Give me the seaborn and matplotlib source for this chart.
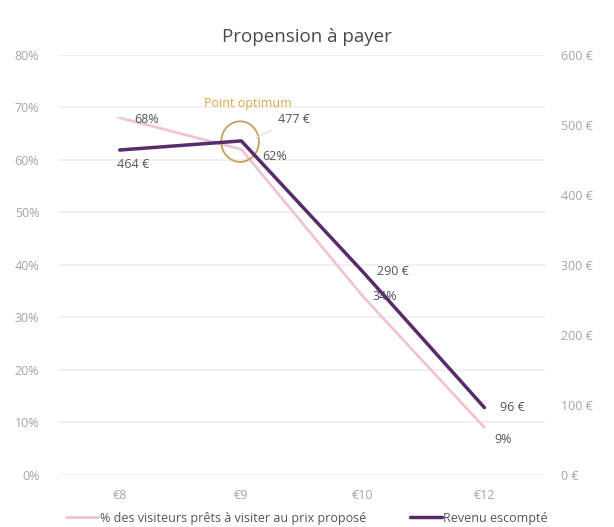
import pandas as pd
import seaborn as sns
import matplotlib.pyplot as plt
from matplotlib.patches import Ellipse

# Données
prix = ['€8', '€9', '€10', '€12']
pct_visiteurs = [68, 62, 34, 9]
revenu = [464, 477, 290, 96]

df = pd.DataFrame({'x': range(len(prix)), 'pct': pct_visiteurs, 'rev': revenu})

sns.set_theme(style="white")
plt.rcParams['font.family'] = ['Open Sans', 'DejaVu Sans']

rose = '#f0c4d6'
violet = '#582b6b'
gris = '#a5a5a5'
texte = '#555555'

fig = plt.figure(figsize=(6.14, 5.27), dpi=100)
ax = fig.add_axes([0.096, 0.099, 0.792, 0.797])
ax2 = ax.twinx()

sns.lineplot(x='x', y='pct', data=df, ax=ax, color=rose, linewidth=2)
sns.lineplot(x='x', y='rev', data=df, ax=ax2, color=violet, linewidth=2.5)

ax.set_xlim(-0.5, 3.5)
ax.set_ylim(0, 80)
ax2.set_ylim(0, 600)
ax.set_yticks(range(0, 81, 10))
ax.set_yticklabels([f'{v}%' for v in range(0, 81, 10)])
ax2.set_yticks(range(0, 601, 100))
ax2.set_yticklabels([f'{v} €' for v in range(0, 601, 100)])
ax.set_xticks(df['x'])
ax.set_xticklabels(prix)
ax.set_xlabel('')
ax.set_ylabel('')
ax2.set_ylabel('')

ax.grid(axis='y', color='#eeeeee', linewidth=1.2)
ax2.grid(False)
for a in (ax, ax2):
    for s in a.spines.values():
        s.set_visible(False)
    a.tick_params(length=0, labelsize=9, colors=gris, pad=12)
ax.tick_params(axis='y', pad=14)
ax2.tick_params(axis='y', pad=11)
ax.tick_params(axis='x', pad=10)

# Étiquettes des valeurs
ax.annotate('68%', xy=(-0.05, 68), xytext=(0.12, 67.6), fontsize=9, color=texte,
            va='center', arrowprops=dict(arrowstyle='-', color='#dddddd', lw=0.8))
ax.text(1.17, 60.6, '62%', fontsize=9, color=texte, va='center')
ax.text(2.08, 34.0, '34%', fontsize=9, color=texte, va='center')
ax.text(3.08, 6.8, '9%', fontsize=9, color=texte, va='center')
ax2.text(-0.02, 443, '464 €', fontsize=9, color=texte, va='center')
ax2.annotate('477 €', xy=(1.1, 480), xytext=(1.3, 508), fontsize=9, color=texte,
             va='center', arrowprops=dict(arrowstyle='-', color='#dddddd', lw=0.8))
ax2.text(2.12, 291, '290 €', fontsize=9, color=texte, va='center')
ax2.text(3.13, 96, '96 €', fontsize=9, color=texte, va='center')

# Point optimum
ax2.add_patch(Ellipse((0.99, 476), width=0.31, height=58, fill=False,
                      edgecolor='#c4a05a', linewidth=1.3))
ax2.text(1.05, 530, 'Point optimum', fontsize=9, color='#dba646', ha='center', va='center')

fig.text(0.5, 0.93, 'Propension à payer', ha='center', va='center', fontsize=13.5, color='#4a4a4a')

handles = [plt.Line2D([], [], color=rose, linewidth=2),
           plt.Line2D([], [], color=violet, linewidth=2.5)]
fig.legend(handles, ['% des visiteurs prêts à visiter au prix proposé', 'Revenu escompté'],
           loc='center', bbox_to_anchor=(0.5, 0.017), ncol=2, frameon=False, fontsize=9,
           handlelength=2.6, handletextpad=0.1, columnspacing=3.5, labelcolor=texte)

plt.savefig('out.png', dpi=100)
